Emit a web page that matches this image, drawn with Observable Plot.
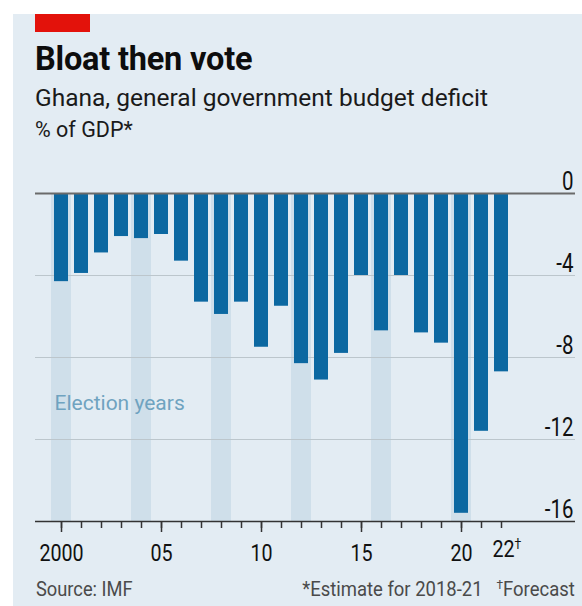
<!DOCTYPE html>
<html>
<head>
<meta charset="utf-8">
<script src="https://cdn.jsdelivr.net/npm/d3@7"></script>
<script src="https://cdn.jsdelivr.net/npm/@observablehq/plot@0.6"></script>
<style>
  html, body { margin: 0; padding: 0; background: #ffffff; width: 582px; height: 606px; overflow: hidden; }
  #bg { position: absolute; left: 13px; top: 14px; right: 0; bottom: 0; background: #e3ecf3; }
  #redbar { position: absolute; left: 35px; top: 14px; width: 55px; height: 18px; background: #e3120b; }
  .t { position: absolute; white-space: nowrap; }
  #title { left: 35px; top: 40px; font: 700 32.5px Roboto, sans-serif; color: #0d0d0d; letter-spacing: -0.2px; }
  #subtitle { left: 35px; top: 83px; font: 400 24.5px Roboto, sans-serif; color: #1a1a1a; }
  #unit { left: 35px; top: 117px; font: 400 21.5px Roboto, sans-serif; color: #1a1a1a; }
  .foot { font: 400 21px Roboto, sans-serif; color: #4a4a4a; top: 577px; }
  #source { left: 36px; transform: scaleX(0.87); transform-origin: 0 0; }
  #notes { right: 7px; transform: scaleX(0.88); transform-origin: 100% 0; }
  #chart { position: absolute; left: 13px; top: 150px; }
  sup { font-size: 0.65em; vertical-align: 0.55em; line-height: 0; }
</style>
</head>
<body>
<div id="bg"></div>
<div id="redbar"></div>
<div class="t" id="title">Bloat then vote</div>
<div class="t" id="subtitle">Ghana, general government budget deficit</div>
<div class="t" id="unit">% of GDP*</div>
<div id="chart"></div>
<div class="t foot" id="source">Source: IMF</div>
<div class="t foot" id="notes">*Estimate for 2018-21&nbsp;&nbsp;&nbsp;<sup>†</sup>Forecast</div>
<script>
const years = [2000,2001,2002,2003,2004,2005,2006,2007,2008,2009,2010,2011,2012,2013,2014,2015,2016,2017,2018,2019,2020,2021,2022];
const deficit = [-4.3,-3.9,-2.9,-2.1,-2.2,-2.0,-3.3,-5.3,-5.9,-5.3,-7.5,-5.5,-8.3,-9.1,-7.8,-4.0,-6.7,-4.0,-6.8,-7.3,-15.6,-11.6,-8.7];
const electionYears = [2000,2004,2008,2012,2016,2020];
const yDomain = [-16, 0];
const yTicks = [0,-4,-8,-12,-16];
const yGrid = [-4,-8,-12];
const majorYears = [2000,2005,2010,2015,2020];
const majorLabels = ["2000","05","10","15","20"];
const forecastYear = [2022];
const forecastLabel = ["22"];
const forecastMark = "\u2020";
const annotation = [{year: 2000, value: -10.55, text: "Election years"}];

const data = years.map((y, i) => ({year: y, value: deficit[i]}));
const font = 'Roboto, sans-serif';

const chart = Plot.plot({
  width: 569,
  height: 430,
  marginTop: 43,
  marginBottom: 59,
  marginLeft: 22,
  marginRight: 7,
  style: {background: "transparent", fontFamily: font, fontSize: "24px", color: "#111"},
  x: {type: "band", domain: years, paddingInner: 0.31, paddingOuter: 1.97, align: 0.225, axis: null},
  y: {domain: yDomain, axis: null},
  marks: [
    Plot.barY(electionYears, {x: d => d, y1: yDomain[1], y2: yDomain[0], fill: "#cfdfea", insetLeft: -3, insetRight: -3}),
    Plot.gridY(yGrid, {stroke: "#bcc6cc", strokeOpacity: 1, strokeWidth: 1.2}),
    Plot.barY(data, {x: "year", y: "value", fill: "#0c68a1"}),
    Plot.ruleY([0], {stroke: "#6a6a6a", strokeWidth: 2.2}),
    Plot.ruleY([yDomain[0]], {stroke: "#333", strokeWidth: 1.6}),
    Plot.axisY(yTicks, {anchor: "right", label: null, tickSize: 0, tickPadding: 0, textAnchor: "end", lineAnchor: "bottom", dx: -2, dy: -4, tickFormat: d => String(d), fontSize: 25, fill: "#111"}),
    Plot.axisX(years, {anchor: "bottom", label: null, tickSize: 7, tickFormat: () => "", stroke: "#333", strokeWidth: 1.5}),
    Plot.axisX(majorYears, {anchor: "bottom", label: null, tickSize: 11, tickPadding: 11, stroke: "#333", strokeWidth: 1.5, tickFormat: d => majorLabels[majorYears.indexOf(d)], fontSize: 24, fill: "#111"}),
    Plot.axisX(forecastYear, {anchor: "bottom", label: null, tickSize: 0, tickPadding: 18, tickFormat: d => forecastLabel[forecastYear.indexOf(d)], fontSize: 24, fill: "#111"}),
    Plot.text(annotation, {x: "year", y: "value", text: "text", textAnchor: "start", lineAnchor: "bottom", dx: -7, fill: "#6fa3c0", fontSize: 21, fontFamily: font})
  ]
});
document.getElementById("chart").appendChild(chart);

// condense the tick labels horizontally around their own anchor (text stays text)
chart.querySelectorAll('g[aria-label$="tick label"] text').forEach(el => {
  const tx = el.getAttribute("transform") || "";
  const x = +(el.getAttribute("x") || 0);
  el.setAttribute("transform", `${tx} translate(${x},0) scale(0.82,1) translate(${-x},0)`);
  // forecast label gets a superscript dagger hanging after the centred "22"
  if (el.textContent === forecastLabel[0]) {
    const ns = "http://www.w3.org/2000/svg";
    const sup = document.createElementNS(ns, "tspan");
    sup.setAttribute("font-size", "15");
    sup.setAttribute("dy", "-8");
    sup.textContent = forecastMark;
    el.appendChild(sup);
    el.setAttribute("text-anchor", "start");
    el.setAttribute("dx", "-11");
  }
});
</script>
</body>
</html>
